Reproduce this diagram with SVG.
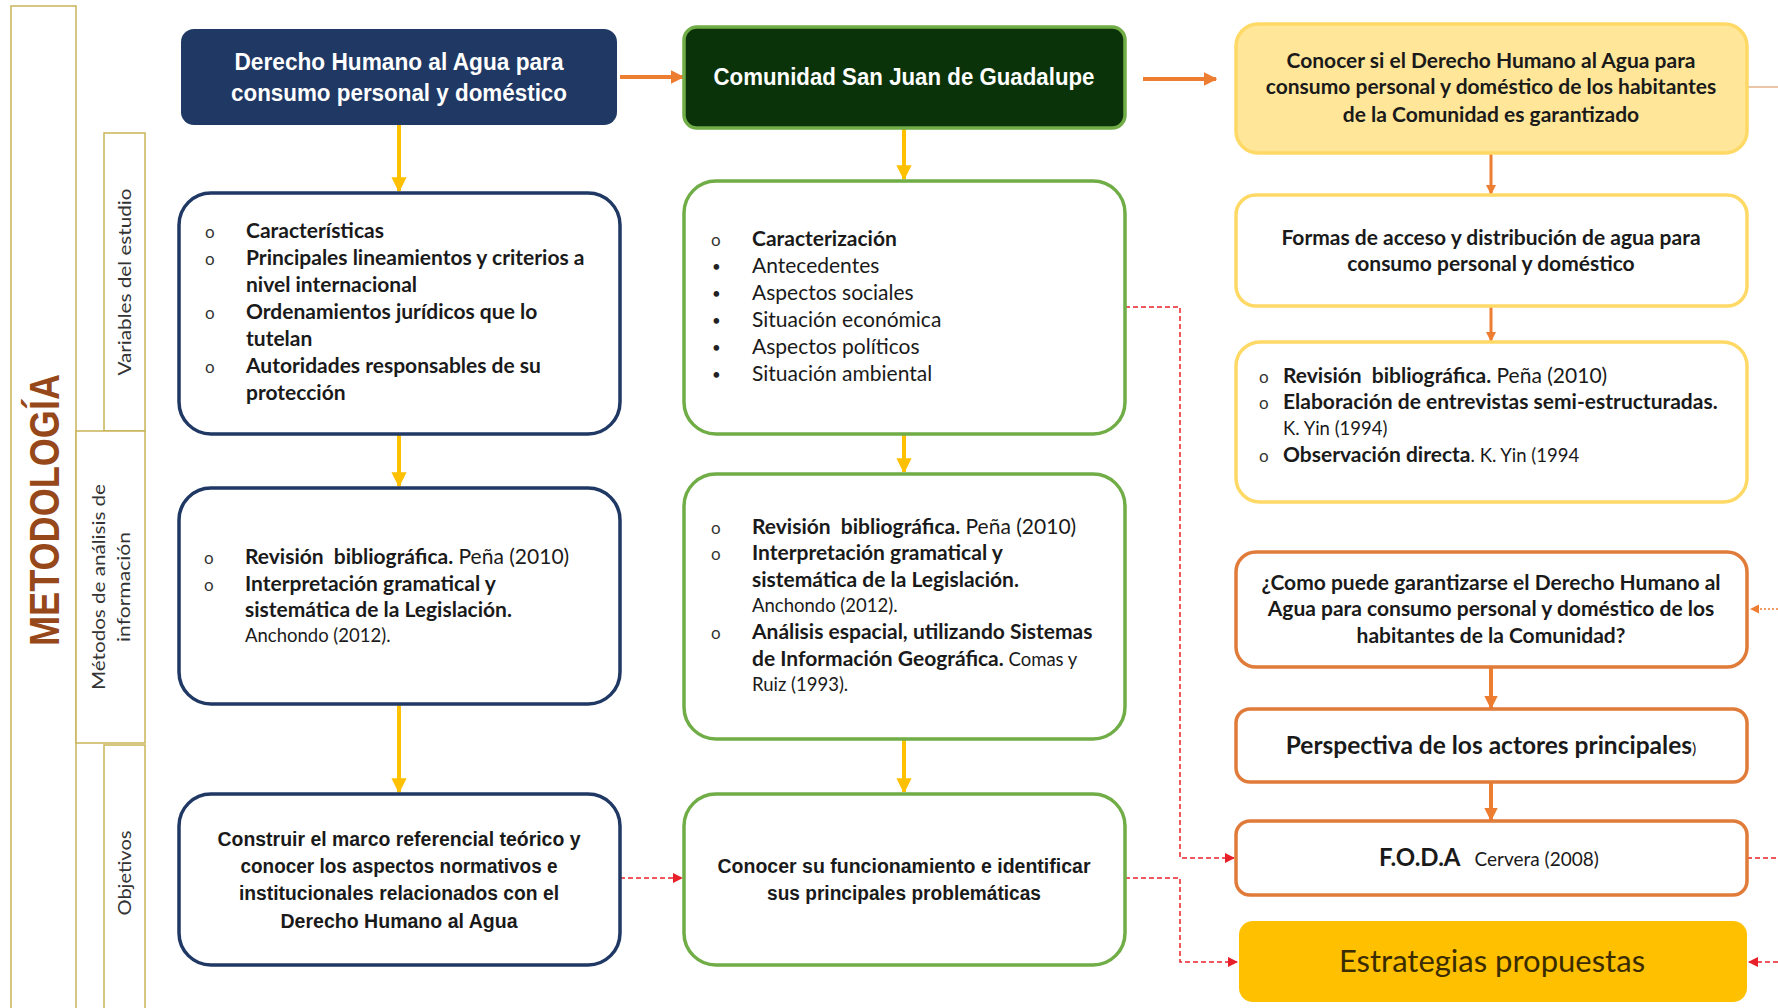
<svg xmlns="http://www.w3.org/2000/svg" width="1778" height="1008" viewBox="0 0 1778 1008">
<defs>
<style>
text{font-family:Lato,"Open Sans","Liberation Sans",sans-serif;fill:#1a1a1a;white-space:pre}
.b{font-weight:bold}
.c{font-family:"Liberation Sans",Lato,sans-serif;font-weight:bold}
.w{fill:#fff}
.side{fill:#fff;stroke:#C9B458;stroke-width:1.5}
.nav{fill:#fff;stroke:#1F3864;stroke-width:3.5}
.grn{fill:#fff;stroke:#70AD47;stroke-width:3.5}
.yel{fill:#fff;stroke:#FFD966;stroke-width:3.5}
.org{fill:#fff;stroke:#E07B39;stroke-width:3.5}
.ya{stroke:#FFC000;stroke-width:4;fill:none}
.oa{stroke:#ED7D31;stroke-width:4;fill:none}
.rd{stroke:#E8202A;stroke-width:1.5;stroke-dasharray:5 3;fill:none}
.li{font-size:21px}
.ls{font-size:18.5px}
.h3{font-size:21px;font-weight:bold}
.o{font-size:17px;fill:#333}
.d{font-size:15px;fill:#222}
</style>
<marker id="my" viewBox="0 0 10 10" refX="9" refY="5" markerWidth="3.8" markerHeight="3.8" orient="auto" markerUnits="strokeWidth"><path d="M0,0L10,5L0,10z" fill="#FFC000"/></marker>
<marker id="mo" viewBox="0 0 10 10" refX="9" refY="5" markerWidth="3.4" markerHeight="3.4" orient="auto" markerUnits="strokeWidth"><path d="M0,0L10,5L0,10z" fill="#ED7D31"/></marker>
<marker id="mr" viewBox="0 0 10 10" refX="9" refY="5" markerWidth="7" markerHeight="7" orient="auto" markerUnits="strokeWidth"><path d="M0,0L10,5L0,10z" fill="#E8202A"/></marker>
<marker id="mo2" viewBox="0 0 10 10" refX="9" refY="5" markerWidth="7" markerHeight="7" orient="auto" markerUnits="strokeWidth"><path d="M0,0L10,5L0,10z" fill="#ED7D31"/></marker>
</defs>
<rect width="1778" height="1008" fill="#fff"/>

<g id="side-metodologia">
<rect class="side" x="11" y="6" width="65" height="1010"/>
<text x="59" y="510" transform="rotate(-90 59 510)" text-anchor="middle" class="c" font-size="42" textLength="272" lengthAdjust="spacingAndGlyphs" style="fill:#96481A">METODOLOGÍA</text>
</g>
<g id="side-variables">
<rect class="side" x="104" y="133" width="41" height="298"/>
<text x="131" y="282" transform="rotate(-90 131 282)" text-anchor="middle" font-size="18" textLength="187" lengthAdjust="spacingAndGlyphs" style="fill:#333">Variables del estudio</text>
</g>
<g id="side-metodos">
<rect class="side" x="76" y="431" width="69" height="312"/>
<text x="105" y="587" transform="rotate(-90 105 587)" text-anchor="middle" font-size="18" textLength="206" lengthAdjust="spacingAndGlyphs" style="fill:#333">Métodos de análisis de</text>
<text x="130" y="587" transform="rotate(-90 130 587)" text-anchor="middle" font-size="18" textLength="110" lengthAdjust="spacingAndGlyphs" style="fill:#333">información</text>
</g>
<g id="side-objetivos">
<rect class="side" x="104" y="745" width="41" height="270"/>
<text x="131" y="873" transform="rotate(-90 131 873)" text-anchor="middle" font-size="18" textLength="85" lengthAdjust="spacingAndGlyphs" style="fill:#333">Objetivos</text>
</g>

<g id="connectors">
<line class="ya" x1="399" y1="125" x2="399" y2="191" marker-end="url(#my)"/>
<line class="ya" x1="399" y1="434" x2="399" y2="486" marker-end="url(#my)"/>
<line class="ya" x1="399" y1="704" x2="399" y2="792" marker-end="url(#my)"/>
<line class="ya" x1="904" y1="128" x2="904" y2="179" marker-end="url(#my)"/>
<line class="ya" x1="904" y1="434" x2="904" y2="472" marker-end="url(#my)"/>
<line class="ya" x1="904" y1="739" x2="904" y2="792" marker-end="url(#my)"/>
<line class="oa" x1="620" y1="77" x2="683" y2="77" marker-end="url(#mo)"/>
<line class="oa" x1="1143" y1="79" x2="1216" y2="79" marker-end="url(#mo)"/>
<line class="oa" x1="1491" y1="153" x2="1491" y2="194" marker-end="url(#mo)" style="stroke-width:3"/>
<line class="oa" x1="1491" y1="306" x2="1491" y2="341" marker-end="url(#mo)" style="stroke-width:3"/>
<line class="oa" x1="1491" y1="667" x2="1491" y2="708" marker-end="url(#mo)"/>
<line class="oa" x1="1491" y1="782" x2="1491" y2="820" marker-end="url(#mo)"/>
<line x1="1747" y1="87" x2="1778" y2="87" stroke="#D9A06A" stroke-width="1.2"/>
<line x1="1778" y1="609" x2="1751" y2="609" stroke="#ED7D31" stroke-width="1.3" stroke-dasharray="2 2" marker-end="url(#mo2)"/>
<path class="rd" d="M1125,307H1180V858H1234" marker-end="url(#mr)"/>
<path class="rd" d="M1125,878H1180V962H1237" marker-end="url(#mr)"/>
<path class="rd" d="M620,878H682" marker-end="url(#mr)"/>
<path class="rd" d="M1747,858H1778"/>
<path class="rd" d="M1778,962H1749" marker-end="url(#mr)"/>
</g>

<g id="n-derecho">
<rect x="181" y="29" width="436" height="96" rx="13" fill="#1F3864"/>
<text class="c w" x="399" y="70" text-anchor="middle" font-size="23" textLength="329" lengthAdjust="spacingAndGlyphs">Derecho Humano al Agua para</text>
<text class="c w" x="399" y="101" text-anchor="middle" font-size="23" textLength="336" lengthAdjust="spacingAndGlyphs">consumo personal y doméstico</text>
</g>
<g id="n-variables1">
<rect class="nav" x="179" y="193" width="441" height="241" rx="32"/>
<text class="o" x="205" y="238">o</text>
<text class="o" x="205" y="265">o</text>
<text class="o" x="205" y="319">o</text>
<text class="o" x="205" y="373">o</text>
<g class="li">
<text class="b" x="246" y="238">Características</text>
<text class="b" x="246" y="265">Principales lineamientos y criterios a</text>
<text class="b" x="246" y="292">nivel internacional</text>
<text class="b" x="246" y="319">Ordenamientos jurídicos que lo</text>
<text class="b" x="246" y="346">tutelan</text>
<text class="b" x="246" y="373">Autoridades responsables de su</text>
<text class="b" x="246" y="400">protección</text>
</g>
</g>
<g id="n-metodos1">
<rect class="nav" x="179" y="488" width="441" height="216" rx="32"/>
<text class="o" x="204" y="564">o</text>
<text class="o" x="204" y="591">o</text>
<g class="li">
<text x="245" y="564"><tspan class="b">Revisión  bibliográfica.</tspan> Peña (2010)</text>
<text class="b" x="245" y="591">Interpretación gramatical y</text>
<text class="b" x="245" y="617">sistemática de la Legislación.</text>
</g>
<text class="ls" x="245" y="642">Anchondo (2012).</text>
</g>
<g id="n-objetivo1">
<rect class="nav" x="179" y="794" width="441" height="171" rx="32"/>
<text class="c" x="399" y="846" text-anchor="middle" font-size="20" textLength="363" lengthAdjust="spacingAndGlyphs">Construir el marco referencial teórico y</text>
<text class="c" x="399" y="873" text-anchor="middle" font-size="20" textLength="317" lengthAdjust="spacingAndGlyphs">conocer los aspectos normativos e</text>
<text class="c" x="399" y="900" text-anchor="middle" font-size="20" textLength="320" lengthAdjust="spacingAndGlyphs">institucionales relacionados con el</text>
<text class="c" x="399" y="928" text-anchor="middle" font-size="20" textLength="237" lengthAdjust="spacingAndGlyphs">Derecho Humano al Agua</text>
</g>

<g id="n-comunidad">
<rect x="684" y="27" width="441" height="101" rx="13" fill="#0B3309" stroke="#70AD47" stroke-width="3.5"/>
<text class="c w" x="904" y="85" text-anchor="middle" font-size="23" textLength="381" lengthAdjust="spacingAndGlyphs">Comunidad San Juan de Guadalupe</text>
</g>
<g id="n-variables2">
<rect class="grn" x="684" y="181" width="441" height="253" rx="32"/>
<text class="o" x="711" y="246">o</text>
<text class="d" x="712" y="272">•</text>
<text class="d" x="712" y="299">•</text>
<text class="d" x="712" y="326">•</text>
<text class="d" x="712" y="353">•</text>
<text class="d" x="712" y="380">•</text>
<g class="li">
<text class="b" x="752" y="246">Caracterización</text>
<text x="752" y="273">Antecedentes</text>
<text x="752" y="300">Aspectos sociales</text>
<text x="752" y="327">Situación económica</text>
<text x="752" y="354">Aspectos políticos</text>
<text x="752" y="381">Situación ambiental</text>
</g>
</g>
<g id="n-metodos2">
<rect class="grn" x="684" y="474" width="441" height="265" rx="32"/>
<text class="o" x="711" y="534">o</text>
<text class="o" x="711" y="560">o</text>
<text class="o" x="711" y="639">o</text>
<g class="li">
<text x="752" y="534"><tspan class="b">Revisión  bibliográfica.</tspan> Peña (2010)</text>
<text class="b" x="752" y="560">Interpretación gramatical y</text>
<text class="b" x="752" y="587">sistemática de la Legislación.</text>
<text class="b" x="752" y="639">Análisis espacial, utilizando Sistemas</text>
<text x="752" y="666"><tspan class="b">de Información Geográfica.</tspan><tspan class="ls"> Comas y</tspan></text>
</g>
<text class="ls" x="752" y="612">Anchondo (2012).</text>
<text class="ls" x="752" y="691">Ruiz (1993).</text>
</g>
<g id="n-objetivo2">
<rect class="grn" x="684" y="794" width="441" height="171" rx="32"/>
<text class="c" x="904" y="873" text-anchor="middle" font-size="20" textLength="373" lengthAdjust="spacingAndGlyphs">Conocer su funcionamiento e identificar</text>
<text class="c" x="904" y="900" text-anchor="middle" font-size="20" textLength="274" lengthAdjust="spacingAndGlyphs">sus principales problemáticas</text>
</g>

<g id="n-conocer">
<rect x="1236" y="24" width="511" height="129" rx="22" fill="#FFE699" stroke="#FFD966" stroke-width="3.5"/>
<text class="h3" x="1491" y="68" text-anchor="middle">Conocer si el Derecho Humano al Agua para</text>
<text class="h3" x="1491" y="94" text-anchor="middle">consumo personal y doméstico de los habitantes</text>
<text class="h3" x="1491" y="122" text-anchor="middle">de la Comunidad es garantizado</text>
</g>
<g id="n-formas">
<rect class="yel" x="1236" y="195" width="511" height="111" rx="20"/>
<text class="h3" x="1491" y="245" text-anchor="middle">Formas de acceso y distribución de agua para</text>
<text class="h3" x="1491" y="271" text-anchor="middle">consumo personal y doméstico</text>
</g>
<g id="n-metodos3">
<rect class="yel" x="1236" y="342" width="511" height="160" rx="24"/>
<text class="o" x="1259" y="383">o</text>
<text class="o" x="1259" y="409">o</text>
<text class="o" x="1259" y="462">o</text>
<g class="li">
<text x="1283" y="383"><tspan class="b">Revisión  bibliográfica.</tspan> Peña (2010)</text>
<text class="b" x="1283" y="409">Elaboración de entrevistas semi-estructuradas.</text>
<text x="1283" y="462"><tspan class="b">Observación directa</tspan><tspan class="ls">. K. Yin (1994</tspan></text>
</g>
<text class="ls" x="1283" y="435">K. Yin (1994)</text>
</g>
<g id="n-pregunta">
<rect class="org" x="1236" y="552" width="511" height="115" rx="20"/>
<text class="h3" x="1491" y="590" text-anchor="middle">¿Como puede garantizarse el Derecho Humano al</text>
<text class="h3" x="1491" y="616" text-anchor="middle">Agua para consumo personal y doméstico de los</text>
<text class="h3" x="1491" y="643" text-anchor="middle">habitantes de la Comunidad?</text>
</g>
<g id="n-perspectiva">
<rect class="org" x="1236" y="709" width="511" height="73" rx="14"/>
<text x="1491" y="754" text-anchor="middle"><tspan class="b" font-size="24.5">Perspectiva de los actores principales</tspan><tspan font-size="16">)</tspan></text>
</g>
<g id="n-foda">
<rect class="org" x="1236" y="821" width="511" height="74" rx="14"/>
<text x="1379" y="866"><tspan class="b" font-size="24">F.O.D.A</tspan><tspan font-size="19" dx="14">Cervera (2008)</tspan></text>
</g>
<g id="n-estrategias">
<rect x="1239" y="921" width="508" height="81" rx="14" fill="#FFC000"/>
<text x="1492" y="972" text-anchor="middle" font-size="31" style="fill:#3A2C00">Estrategias propuestas</text>
</g>
</svg>
